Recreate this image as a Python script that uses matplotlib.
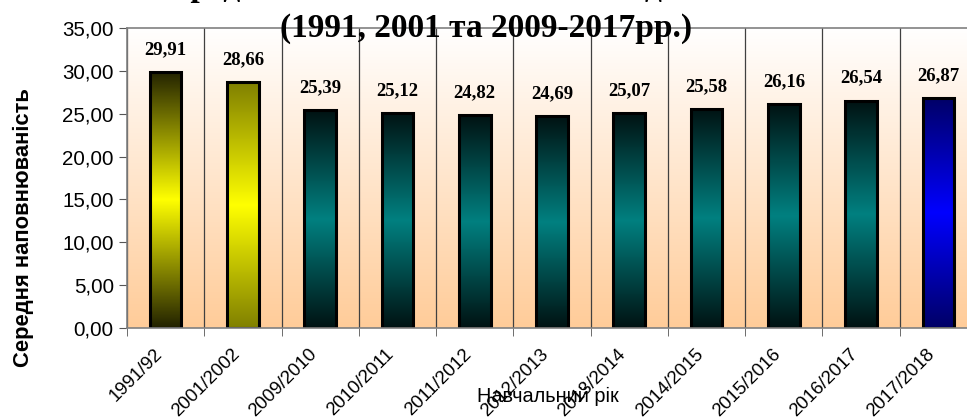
import matplotlib
matplotlib.use("Agg")
import matplotlib.pyplot as plt
import matplotlib.transforms as mtransforms
import numpy as np
from matplotlib.colors import LinearSegmentedColormap
from matplotlib.ticker import FixedLocator, FuncFormatter

categories = ["1991/92", "2001/2002", "2009/2010", "2010/2011", "2011/2012",
              "2012/2013", "2013/2014", "2014/2015", "2015/2016", "2016/2017", "2017/2018"]
values = [29.91, 28.66, 25.39, 25.12, 24.82, 24.69, 25.07, 25.58, 26.16, 26.54, 26.87]
# (edge colour of gradient, centre colour of gradient) per bar
bar_colors = [("#222200", "#ffff00"), ("#808000", "#ffff00")] + \
             [("#001212", "#008080")] * 8 + [("#000066", "#0000ff")]

title_line1 = "Середня наповнюваність класів денних ЗНЗ"
title_line2 = "(1991, 2001 та 2009-2017рр.)"
y_label = "Середня наповнюваність"
x_label = "Навчальний рік"

W, H = 967, 419
fig = plt.figure(figsize=(W / 100, H / 100), dpi=100)
fig.patch.set_facecolor("white")

ax = fig.add_axes([127 / W, 1 - 328 / H, (977 - 127) / W, 300 / H])
n = len(categories)
x = np.arange(n)
ax.set_xlim(-0.5, n - 0.5)
ax.set_ylim(0, 35)

# background gradient (white top -> peach bottom)
bg = LinearSegmentedColormap.from_list("bg", ["#ffcc99", "#ffffff"])
grad = np.linspace(0, 1, 256).reshape(-1, 1)
ax.imshow(grad, extent=(-0.5, n - 0.5, 0, 35), origin="lower", aspect="auto",
          cmap=bg, zorder=0)

bars = ax.bar(x, values, width=0.41, facecolor="none", edgecolor="black",
              linewidth=2.2, zorder=3)
for b, (c_edge, c_mid) in zip(bars, bar_colors):
    cm = LinearSegmentedColormap.from_list("b", [c_edge, c_mid, c_edge])
    x0, w, h = b.get_x(), b.get_width(), b.get_height()
    ax.imshow(grad, extent=(x0, x0 + w, 0, h), origin="lower", aspect="auto",
              cmap=cm, zorder=2)

for xi, v in zip(x, values):
    ax.annotate(f"{v:.2f}".replace(".", ","), (xi, v), xytext=(0, 10),
                textcoords="offset points", ha="center", va="bottom",
                fontsize=13.5, fontweight="bold", family="Liberation Serif",
                zorder=5)

ax.set_xlim(-0.5, n - 0.5)
ax.set_ylim(0, 35)

# category boundaries: minor ticks + vertical grid
bounds = np.arange(-0.5, n, 1.0)
ax.xaxis.set_minor_locator(FixedLocator(bounds))
ax.set_xticks(x)
ax.set_xticklabels(categories, rotation=45, ha="right", va="top",
                   rotation_mode="default", fontsize=13.4, family="Liberation Sans")
shift = mtransforms.ScaledTranslation(4 / 100, 0, fig.dpi_scale_trans)
for lab in ax.get_xticklabels():
    lab.set_transform(lab.get_transform() + shift)
ax.tick_params(axis="x", which="major", length=0, pad=12.5)
ax.tick_params(axis="x", which="minor", length=5.5, color="#555555", direction="out")
ax.grid(True, axis="x", which="minor", color="#404040", linewidth=0.9, zorder=1)

ax.set_yticks(np.arange(0, 35.1, 5))
ax.yaxis.set_major_formatter(FuncFormatter(lambda v, p: f"{v:.2f}".replace(".", ",")))
ax.tick_params(axis="y", length=6, color="#555555", labelsize=14.8, pad=3.5)
for lab in ax.get_yticklabels():
    lab.set_family("Liberation Sans")

for s in ax.spines.values():
    s.set_color("#808080")
    s.set_linewidth(1.2)
    s.set_zorder(4)

fig.text(23 / W, 1 - 228 / H, y_label, rotation=90, ha="center", va="center",
         fontsize=15.8, fontweight="bold", family="Liberation Sans")
fig.text(548 / W, 1 - 396 / H, x_label, ha="center", va="center",
         fontsize=14.3, family="Liberation Sans")

fig.text(486 / W, 1 - 37 / H, title_line2, ha="center", va="baseline",
         fontsize=24, fontweight="bold", family="Liberation Serif", zorder=6)
fig.text(486 / W, 1 + 4 / H, title_line1, ha="center", va="baseline",
         fontsize=24, fontweight="bold", family="Liberation Serif", zorder=6)

fig.savefig("out.png", dpi=100)
